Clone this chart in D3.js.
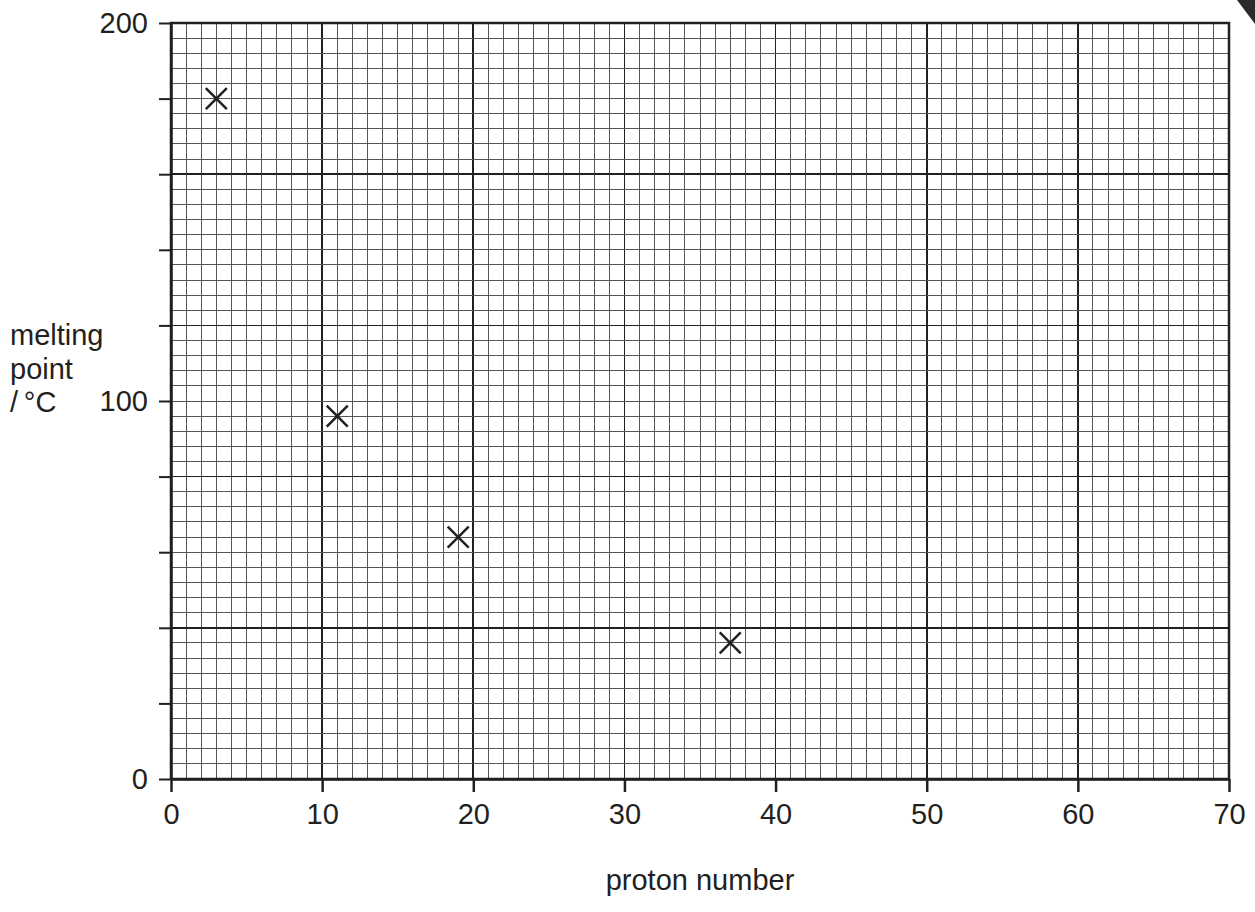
<!DOCTYPE html>
<html>
<head>
<meta charset="utf-8">
<script src="https://cdn.jsdelivr.net/npm/d3@7"></script>
<style>
  body { margin: 0; background: #fff; }
  svg text { font-family: "Liberation Sans", Arial, sans-serif; fill: #231f20; }
</style>
</head>
<body>
<div id="container"></div>
<script>
// data
let protonNumbers = [3, 11, 19, 37]
let meltingPoints = [180, 96, 64, 36]
let xTicks = [0, 10, 20, 30, 40, 50, 60, 70]
let yTicks = [0, 100, 200]

let width = 1255
let height = 912
let margin = {top: 23, right: 26, bottom: 133, left: 171}
let ink = "#231f20"
let fs = 29

let svg = d3.select("#container")
    .append("svg")
    .attr("width", width)
    .attr("height", height)

let x = d3.scaleLinear()
    .domain([0, 70])
    .range([margin.left, width - margin.right])

let y = d3.scaleLinear()
    .domain([0, 200])
    .range([height - margin.bottom, margin.top])

// fine grid: 1 unit across, 4 units up
let grid = svg.append("g").attr("shape-rendering", "crispEdges")

grid.selectAll(".vminor")
    .data(d3.range(0, 71, 1))
    .join("line")
        .attr("x1", d => x(d)).attr("x2", d => x(d))
        .attr("y1", y(0)).attr("y2", y(200))
        .attr("stroke", d => d % 10 == 0 ? ink : "#555")
        .attr("stroke-width", d => d % 10 == 0 ? 1.6 : 1)

grid.selectAll(".hminor")
    .data(d3.range(0, 201, 4))
    .join("line")
        .attr("y1", d => y(d)).attr("y2", d => y(d))
        .attr("x1", x(0)).attr("x2", x(70))
        .attr("stroke", d => d % 40 == 0 ? ink : "#555")
        .attr("stroke-width", d => d % 40 == 0 ? 1.6 : 1)

// frame
svg.append("rect")
    .attr("x", x(0)).attr("y", y(200))
    .attr("width", x(70) - x(0)).attr("height", y(0) - y(200))
    .attr("fill", "none")
    .attr("stroke", ink)
    .attr("stroke-width", 2.5)

// axes
svg.append("g")
    .attr("transform", `translate(0,${y(0)})`)
    .call(d3.axisBottom(x).tickValues(xTicks).tickSize(13).tickPadding(11).tickSizeOuter(0))
    .call(g => g.select(".domain").attr("stroke", ink).attr("stroke-width", 2.5))
    .call(g => g.selectAll(".tick line").attr("stroke", ink).attr("stroke-width", 2.5))
    .call(g => g.selectAll(".tick text").attr("font-size", fs).attr("fill", ink))

svg.append("g")
    .attr("transform", `translate(${x(0)},0)`)
    .call(d3.axisLeft(y).tickValues(d3.range(0, 201, 20)).tickSize(12).tickPadding(11).tickSizeOuter(0)
        .tickFormat(d => yTicks.includes(d) ? d : ""))
    .call(g => g.select(".domain").attr("stroke", ink).attr("stroke-width", 2.5))
    .call(g => g.selectAll(".tick line").attr("stroke", ink).attr("stroke-width", 2))
    .call(g => g.selectAll(".tick text").attr("font-size", fs).attr("fill", ink))

// axis titles
svg.append("text")
    .attr("x", x(35))
    .attr("y", 890)
    .attr("text-anchor", "middle")
    .attr("font-size", fs)
    .text("proton number")

let ylab = svg.append("text")
    .attr("font-size", fs);

["melting", "point", "/\u2009°C"].forEach((t, i) => {
    ylab.append("tspan").attr("x", 10).attr("y", 345 + i * 33.5).text(t)
})

// crosses
let s = 10.5
svg.append("g")
    .selectAll("path")
    .data(protonNumbers.map((p, i) => [p, meltingPoints[i]]))
    .join("path")
        .attr("d", d => `M${x(d[0]) - s},${y(d[1]) - s}L${x(d[0]) + s},${y(d[1]) + s}` +
                        `M${x(d[0]) - s},${y(d[1]) + s}L${x(d[0]) + s},${y(d[1]) - s}`)
        .attr("stroke", ink)
        .attr("stroke-width", 2.5)
        .attr("fill", "none")

// page corner mark at top right
svg.append("path")
    .attr("d", "M1237,0L1255,0L1255,24Z")
    .attr("fill", "#2a2a2a")
</script>
</body>
</html>
